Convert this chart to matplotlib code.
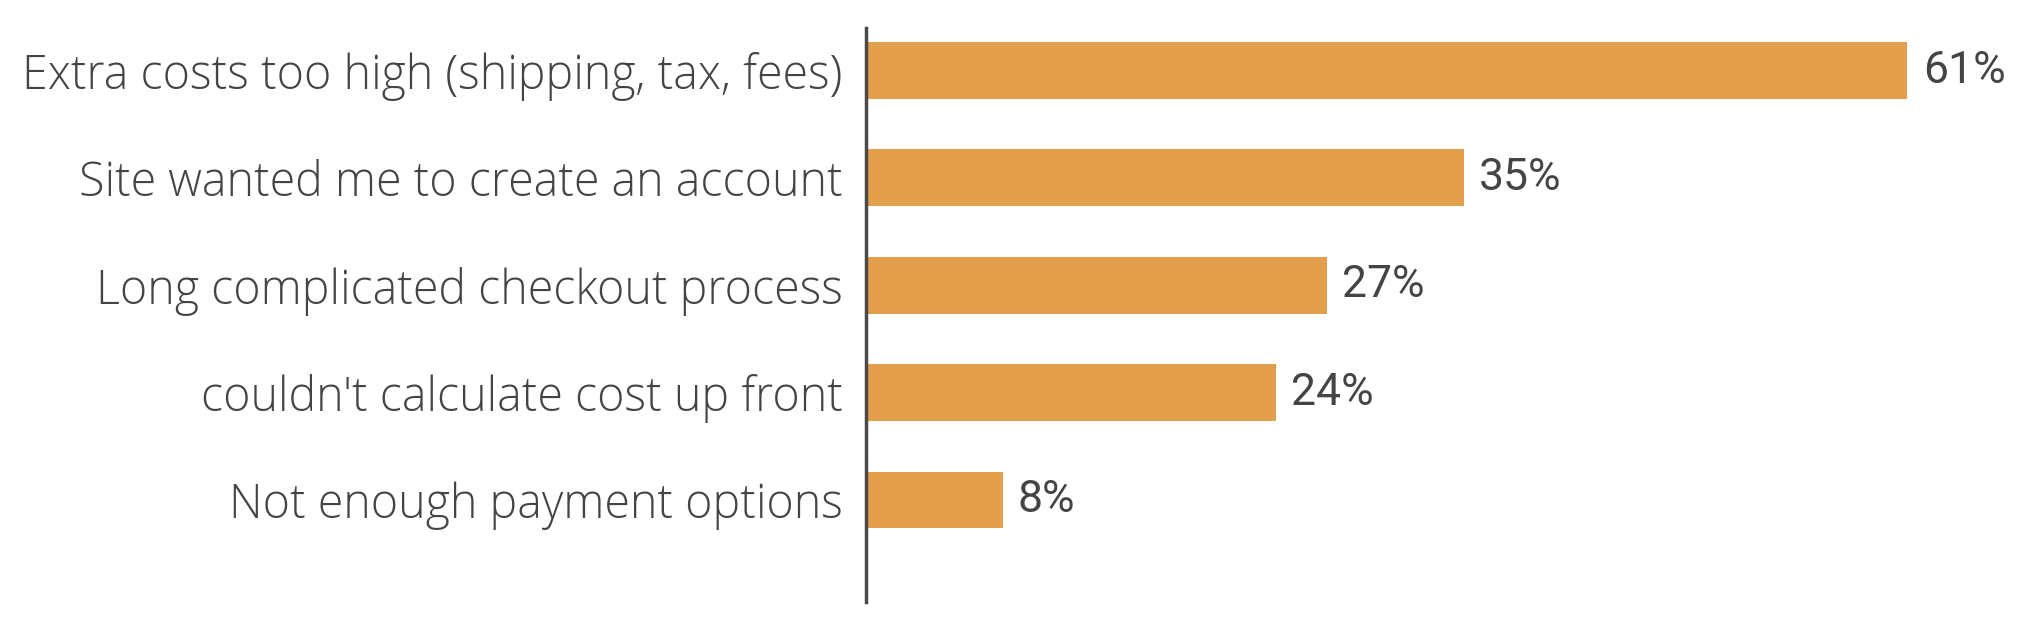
import matplotlib
matplotlib.use("Agg")
import matplotlib.pyplot as plt

reasons = ["Extra costs too high (shipping, tax, fees)",
           "Site wanted me to create an account",
           "Long complicated checkout process",
           "couldn't calculate cost up front",
           "Not enough payment options"]
shares = [61, 35, 27, 24, 8]

bar_color = "#E39F4B"
text_color = "#444444"

fig = plt.figure(figsize=(20.32, 6.32), dpi=100)
ax = fig.add_axes([0.4262, 0.0475, 0.5738, 0.9082])

pos = list(range(len(reasons)))
ax.barh(pos, shares, height=0.53, color=bar_color)
ax.set_ylim(4.95, -0.396)
ax.set_xlim(0, 68.3)

for y, v in zip(pos, shares):
    ax.text(v + 0.9, y, f"{v}%", va="center", ha="left",
            fontsize=32, family="Roboto", color=text_color)

ax.set_yticks(pos)
ax.set_yticklabels(reasons, fontsize=33.5, family="Open Sans", fontweight=300,
                   color=text_color)
ax.tick_params(axis="y", length=0, pad=17)
ax.set_xticks([])

for s in ["top", "right", "bottom"]:
    ax.spines[s].set_visible(False)
ax.spines["left"].set_linewidth(2.5)
ax.spines["left"].set_color("#4a4a4a")

fig.savefig("out.png", dpi=100)
